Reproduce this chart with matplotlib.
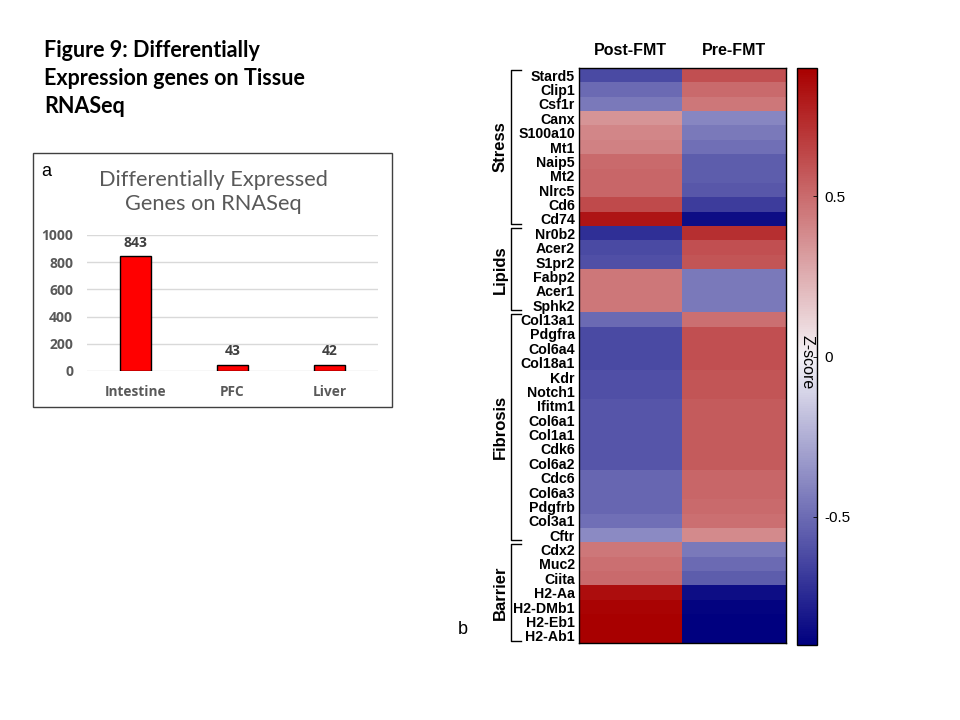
import matplotlib
matplotlib.use("Agg")
import matplotlib.pyplot as plt
import numpy as np
from matplotlib.colors import LinearSegmentedColormap

# ---------------- data ----------------
tissues = ["Intestine", "PFC", "Liver"]
deg_counts = [843, 43, 42]
bar_yticks = [0, 200, 400, 600, 800, 1000]

conditions = ["Post-FMT", "Pre-FMT"]
genes = ["Stard5", "Clip1", "Csf1r", "Canx", "S100a10", "Mt1", "Naip5", "Mt2", "Nlrc5", "Cd6", "Cd74",
         "Nr0b2", "Acer2", "S1pr2", "Fabp2", "Acer1", "Sphk2",
         "Col13a1", "Pdgfra", "Col6a4", "Col18a1", "Kdr", "Notch1", "Ifitm1", "Col6a1", "Col1a1",
         "Cdk6", "Col6a2", "Cdc6", "Col6a3", "Pdgfrb", "Col3a1", "Cftr",
         "Cdx2", "Muc2", "Ciita", "H2-Aa", "H2-DMb1", "H2-Eb1", "H2-Ab1"]
post_fmt = [-0.62, -0.50, -0.45, 0.35, 0.40, 0.42, 0.50, 0.52, 0.52, 0.62, 0.82,
            -0.72, -0.62, -0.60, 0.45, 0.45, 0.45,
            -0.50, -0.62, -0.62, -0.62, -0.60, -0.60, -0.58, -0.58, -0.58,
            -0.58, -0.58, -0.52, -0.52, -0.52, -0.48, -0.38,
            0.45, 0.48, 0.50, 0.85, 0.88, 0.90, 0.90]
pre_fmt = [0.60, 0.50, 0.45, -0.40, -0.45, -0.48, -0.55, -0.55, -0.57, -0.67, -0.85,
           0.72, 0.60, 0.58, -0.45, -0.45, -0.45,
           0.48, 0.60, 0.60, 0.60, 0.58, 0.58, 0.56, 0.56, 0.56,
           0.56, 0.56, 0.52, 0.52, 0.50, 0.48, 0.38,
           -0.45, -0.50, -0.55, -0.85, -0.88, -0.90, -0.90]
groups = ["Stress", "Lipids", "Fibrosis", "Barrier"]
group_sizes = [11, 6, 16, 7]
cbar_ticks = [-0.5, 0, 0.5]

# ---------------- figure ----------------
fig = plt.figure(figsize=(9.6, 7.2), dpi=100)
W, H = 960, 720

def fx(x):
    return x / W

def fy(y):
    return 1 - y / H

# Figure title
fig.text(fx(44), fy(40), "Figure 9: Differentially\nExpression genes on Tissue\nRNASeq",
         ha="left", va="top", fontsize=15.5, fontweight="bold", family="Lato",
         linespacing=1.42, color="black")

# ---- panel a: box ----
box = plt.Rectangle((fx(33), fy(407)), fx(392) - fx(33), fy(153) - fy(407),
                    transform=fig.transFigure, fill=False, edgecolor="#404040", lw=1.0)
fig.add_artist(box)
fig.text(fx(41), fy(172), "a", ha="left", va="center", fontsize=13, family="Liberation Sans")
fig.text(fx(213), fy(192), "Differentially Expressed\nGenes on RNASeq", ha="center", va="center",
         fontsize=15.7, color="#595959", family="Lato", linespacing=1.3)

axb = fig.add_axes([fx(87), fy(371), fx(378) - fx(87), fy(235) - fy(371)])
xpos = np.arange(len(tissues))
axb.bar(xpos, deg_counts, width=0.31, color="#ff0000", edgecolor="black", linewidth=1.0, zorder=3)
for x, v in zip(xpos, deg_counts):
    axb.text(x, v + 50, str(v), ha="center", va="bottom", fontsize=10, fontweight="bold",
             color="#404040", family="Open Sans")
axb.set_xlim(-0.5, 2.5)
axb.set_ylim(0, 1000)
axb.set_yticks(bar_yticks)
axb.set_yticklabels([str(t) for t in bar_yticks], fontsize=10, fontweight="bold", color="#595959",
                    family="Open Sans")
axb.set_xticks(xpos)
axb.set_xticklabels(tissues, fontsize=9.8, fontweight="bold", color="#595959", family="Open Sans")
axb.tick_params(length=0)
axb.tick_params(axis="y", pad=10)
axb.tick_params(axis="x", pad=10)
axb.yaxis.grid(True, color="#d9d9d9", lw=1.0, zorder=0)
axb.set_axisbelow(True)
for s in axb.spines.values():
    s.set_visible(False)

# ---- panel b: heatmap ----
data = np.column_stack([post_fmt, pre_fmt])
cmap = LinearSegmentedColormap.from_list(
    "bwr_dark", [(0.0, "#00007f"), (0.5, "#f4f2f6"), (1.0, "#a80000")])
top, bot = 68, 643
axh = fig.add_axes([fx(579), fy(bot), fx(786) - fx(579), fy(top) - fy(bot)])
im = axh.imshow(data, aspect="auto", cmap=cmap, vmin=-0.9, vmax=0.9, interpolation="nearest")
axh.set_xticks(range(len(conditions)))
axh.set_xticklabels(conditions, fontsize=11.5, fontweight="bold", family="Liberation Sans")
axh.xaxis.tick_top()
axh.set_yticks(range(len(genes)))
axh.set_yticklabels(genes, fontsize=10.2, fontweight="bold", family="Liberation Sans")
axh.tick_params(length=0, pad=3)
axh.tick_params(axis="x", pad=7)
for s in axh.spines.values():
    s.set_linewidth(1.0)

# brackets
row_h = (bot - top) / len(genes)
start = 0
for g, n in zip(groups, group_sizes):
    y0 = top + start * row_h + 2
    y1 = top + (start + n) * row_h - 2
    xs = [fx(521), fx(511), fx(511), fx(521)]
    ys = [fy(y0), fy(y0), fy(y1), fy(y1)]
    fig.add_artist(plt.Line2D(xs, ys, transform=fig.transFigure, color="black", lw=1.0))
    fig.text(fx(500), fy((y0 + y1) / 2), g, rotation=90, ha="center", va="center",
             fontsize=12, fontweight="bold", family="Liberation Sans")
    start += n

fig.text(fx(463), fy(629), "b", ha="center", va="center", fontsize=13, family="Liberation Sans")

# colorbar
cax = fig.add_axes([fx(797), fy(645), fx(817) - fx(797), fy(68) - fy(645)])
cb = fig.colorbar(im, cax=cax)
cb.set_ticks(cbar_ticks)
cb.set_ticklabels(["-0.5", "0", "0.5"])
cb.ax.tick_params(labelsize=11, length=3, width=0.6, direction="in", pad=5)
for lab in cb.ax.get_yticklabels():
    lab.set_family("Liberation Sans")
cb.outline.set_linewidth(1.0)
cax.text(0.5, 0.49, "Z-score", rotation=-90, ha="center", va="center", transform=cax.transAxes,
         fontsize=11.5, family="Liberation Sans")

fig.savefig("out.png", dpi=100)
